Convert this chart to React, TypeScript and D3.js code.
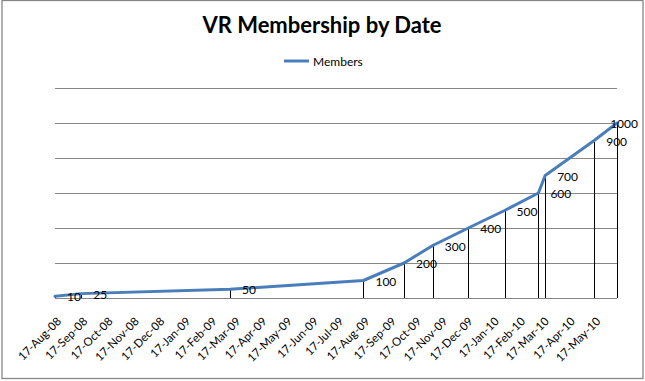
import React from "react";
import * as d3 from "d3";

const dates = [
  "2008-08-17", "2008-09-17", "2009-03-12", "2009-08-17", "2009-10-04", "2009-11-07",
  "2009-12-19", "2010-01-31", "2010-03-12", "2010-03-20", "2010-05-17", "2010-06-13",
];
const members = [10, 25, 50, 100, 200, 300, 400, 500, 600, 700, 900, 1000];
const tickLabels = [
  "17-Aug-08", "17-Sep-08", "17-Oct-08", "17-Nov-08", "17-Dec-08", "17-Jan-09",
  "17-Feb-09", "17-Mar-09", "17-Apr-09", "17-May-09", "17-Jun-09", "17-Jul-09",
  "17-Aug-09", "17-Sep-09", "17-Oct-09", "17-Nov-09", "17-Dec-09", "17-Jan-10",
  "17-Feb-10", "17-Mar-10", "17-Apr-10", "17-May-10",
];
const yTicks = [0, 200, 400, 600, 800, 1000, 1200];

const W = 645;
const H = 381;
const PL = 55;
const PR = 617;
const PT = 88;
const PB = 298;

export default function App() {
  const parse = d3.utcParse("%Y-%m-%d");
  const parseTick = d3.utcParse("%d-%b-%y");
  const pts = dates.map((d, i) => ({ date: parse(d) as Date, v: members[i] }));
  const x = d3
    .scaleUtc()
    .domain([pts[0].date, pts[pts.length - 1].date])
    .range([PL, PR]);
  const y = d3.scaleLinear().domain([0, 1200]).range([PB, PT]);
  const line = d3
    .line<{ date: Date; v: number }>()
    .x((d) => x(d.date))
    .y((d) => y(d.v));
  const ticks = tickLabels.map((t) => ({ label: t, date: parseTick(t) as Date }));
  const grid = "#868686";
  const font = "Lato, 'Open Sans', sans-serif";

  return (
    <svg
      width={W}
      height={H}
      style={{ position: "absolute", left: 0, top: 0, background: "#fff" }}
    >
      <rect x={0} y={0} width={W} height={H} fill="#fff" />
      <rect x={2} y={0.5} width={641} height={378} fill="#fff" stroke={grid} strokeWidth={1.3} />
      <text
        x={322}
        y={33}
        textAnchor="middle"
        fontFamily={font}
        fontWeight="bold"
        fontSize={22}
        fill="#000"
      >
        VR Membership by Date
      </text>
      <line x1={284} x2={309} y1={61} y2={61} stroke="#4A7EBB" strokeWidth={3} />
      <text x={313} y={65.5} fontFamily={font} fontSize={12} fill="#000">
        Members
      </text>
      {yTicks.map((t) => (
        <line
          key={t}
          x1={PL}
          x2={PR}
          y1={Math.round(y(t)) + 0.5}
          y2={Math.round(y(t)) + 0.5}
          stroke={grid}
          strokeWidth={1}
        />
      ))}
      {pts.map((p, i) => (
        <line
          key={"d" + i}
          x1={Math.round(x(p.date)) + 0.5}
          x2={Math.round(x(p.date)) + 0.5}
          y1={y(p.v)}
          y2={PB}
          stroke="#000"
          strokeWidth={1}
        />
      ))}
      <path
        d={line(pts) || ""}
        fill="none"
        stroke="#4A7EBB"
        strokeWidth={3}
        strokeLinejoin="round"
        strokeLinecap="round"
      />
      {pts.map((p, i) => {
        const label = String(p.v);
        const w = label.length * 6.8;
        const px = x(p.date);
        const fits = px + 12 + w <= 638;
        return (
          <text
            key={"l" + i}
            x={fits ? px + 12 : 638}
            y={y(p.v) + 1}
            dy="0.35em"
            textAnchor={fits ? "start" : "end"}
            fontFamily={font}
            fontSize={12}
            fill="#000"
          >
            {label}
          </text>
        );
      })}
      {ticks.map((t) => (
        <text
          key={t.label}
          transform={`translate(${x(t.date) + 7},${322}) rotate(-45)`}
          textAnchor="end"
          fontFamily={font}
          fontSize={11.5}
          fill="#000"
        >
          {t.label}
        </text>
      ))}
    </svg>
  );
}
